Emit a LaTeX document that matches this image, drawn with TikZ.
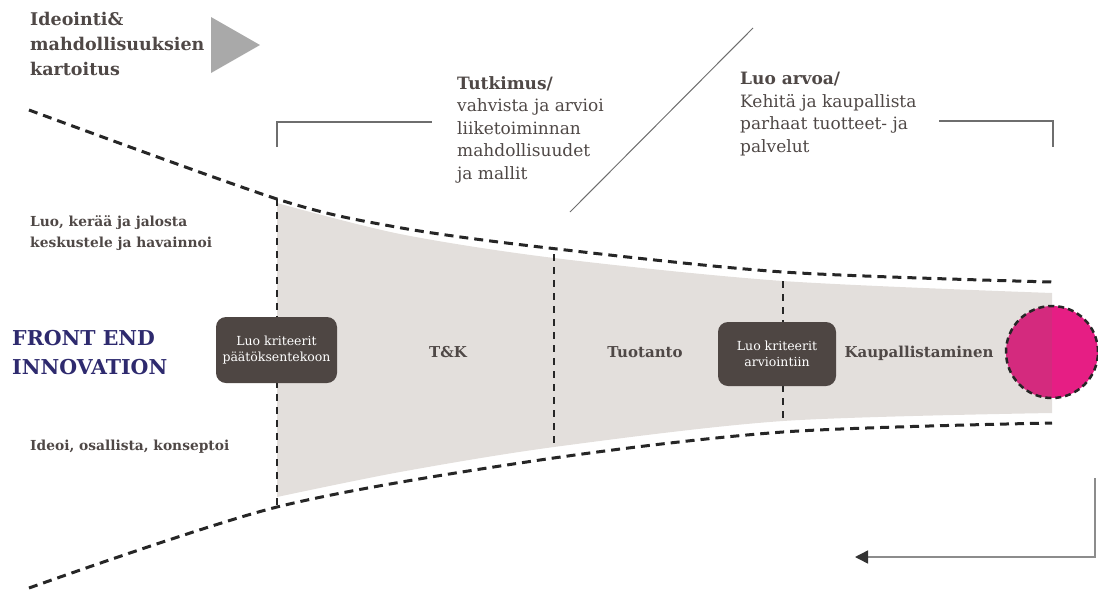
\documentclass[tikz,border=0pt]{standalone}
\usepackage{fontspec}
\setmainfont{DejaVu Serif}
\usetikzlibrary{arrows.meta}
\definecolor{txt}{HTML}{4F4846}
\definecolor{funnelgray}{HTML}{E3DFDC}
\definecolor{boxgray}{HTML}{4E4643}
\definecolor{fei}{HTML}{2E2A6E}
\definecolor{pinkA}{HTML}{D42A7E}
\definecolor{pinkB}{HTML}{E61E84}
\definecolor{rule}{HTML}{6E6E6E}
\definecolor{tri}{HTML}{A9A9A9}
\begin{document}
\begin{tikzpicture}[x=1pt,y=-1pt,
  label/.style={text=txt, inner sep=0pt, align=left},
  heading/.style={label, font=\bfseries\fontsize{17.5}{25}\selectfont},
  body/.style={label, font=\fontsize{17}{22.5}\selectfont},
  side/.style={label, font=\bfseries\fontsize{13.8}{21}\selectfont},
  stage/.style={text=txt, inner sep=0pt, font=\bfseries\fontsize{15}{18}\selectfont},
  gate/.style={fill=boxgray, rounded corners=10pt, text=white, align=center,
    font=\fontsize{12.5}{15.5}\selectfont, inner sep=0pt},
  edge/.style={black!85, line width=3pt, dash pattern=on 9pt off 6pt},
  divider/.style={black!85, line width=2pt, dash pattern=on 7pt off 6pt},
  bracket/.style={rule, line width=1.2pt},
  ret/.style={black!45, line width=1.5pt, -{Triangle[length=13pt,width=13pt,color=black!80]}}]
\useasboundingbox (0,0) rectangle (1098,590);

% shaded funnel body
\fill[funnelgray] plot[smooth] coordinates {(277,203)(400,234)(554,258)(783,281)(1052,293)}
  -- plot[smooth] coordinates {(1052,413)(783,421)(554,447)(400,472)(277,497)} -- cycle;

% dashed outer walls of the funnel
\draw[edge] plot[smooth] coordinates {(29,110)(277,199)(396,227)(540,247)(783,272)(1052,282)};
\draw[edge] plot[smooth] coordinates {(29,588)(277,507)(540,460)(783,432)(1052,423)};

% stage dividers
\coordinate (d1t) at (277,199); \coordinate (d1b) at (277,507);
\coordinate (d2t) at (554,254); \coordinate (d2b) at (554,449);
\coordinate (d3t) at (783,281); \coordinate (d3b) at (783,424);
\draw[divider] (d1t) -- (d1b);
\draw[divider] (d2t) -- (d2b);
\draw[divider] (d3t) -- (d3b);

% decision gates
\node[gate, minimum width=121pt, minimum height=66pt] (g1) at (276.5,350) {Luo kriteerit\\päätöksentekoon};
\node[gate, minimum width=118pt, minimum height=64pt] (g2) at (777,354) {Luo kriteerit\\arviointiin};

% stage names
\node[stage] (tk) at (448,352) {T\&K};
\node[stage] (tuo) at (645,352) {Tuotanto};
\node[stage] (kau) at (919,353) {Kaupallistaminen};

% goal circle
\node[circle, minimum size=92pt, inner sep=0pt, draw=black!85, line width=2.5pt,
  dash pattern=on 6pt off 4pt,
  path picture={
    \fill[pinkA] (path picture bounding box.south west) rectangle (path picture bounding box.north);
    \fill[pinkB] (path picture bounding box.south) rectangle (path picture bounding box.north east);
  }] (goal) at (1052,352) {};

% ideation header with arrow triangle
\node[heading, anchor=north west] (idea) at (30,12) {Ideointi\&\\mahdollisuuksien\\kartoitus};
\fill[tri] (211,17) -- (260,45) -- (211,73) -- cycle;

% phase descriptions
\node[body, anchor=north west] (res) at (457,76) {\textbf{Tutkimus/}\\vahvista ja arvioi\\liiketoiminnan\\mahdollisuudet\\ja mallit};
\node[body, anchor=north west] (val) at (740,72) {\textbf{Luo arvoa/}\\Kehitä ja kaupallista\\parhaat tuotteet- ja\\palvelut};

% brackets and separator
\coordinate (b1a) at (277,147); \coordinate (b1b) at (277,122); \coordinate (b1c) at (432,122);
\draw[bracket] (b1a) -- (b1b) -- (b1c);
\coordinate (b2a) at (939,121); \coordinate (b2b) at (1053,121); \coordinate (b2c) at (1053,147);
\draw[bracket] (b2a) -- (b2b) -- (b2c);
\coordinate (s1) at (570,212); \coordinate (s2) at (753,28);
\draw[rule, line width=1pt] (s1) -- (s2);

% left-hand labels
\node[side, anchor=north west] (top) at (30,215) {Luo, kerää ja jalosta\\keskustele ja havainnoi};
\node[label, anchor=north west, text=fei, font=\bfseries\fontsize{20.5}{29}\selectfont] (fe) at (12,330) {FRONT END\\INNOVATION};
\node[side, anchor=north west] (bot) at (30,440) {Ideoi, osallista, konseptoi};

% feedback arrow
\coordinate (r0) at (1095,478); \coordinate (r1) at (1095,557); \coordinate (r2) at (855,557);
\draw[ret] (r0) -- (r1) -- (r2);
\end{tikzpicture}
\end{document}
